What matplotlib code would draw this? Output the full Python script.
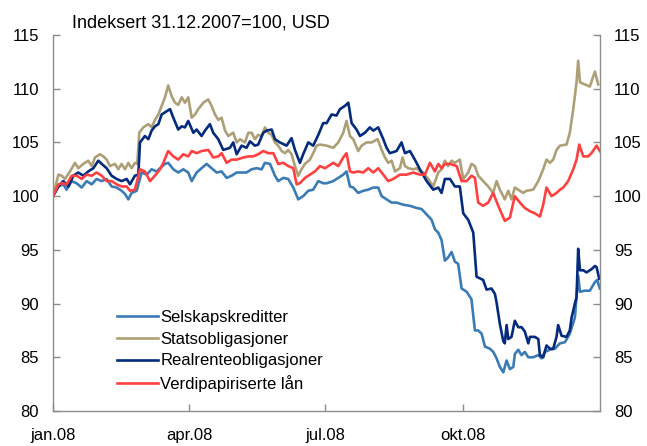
import numpy as np
import matplotlib
matplotlib.use("Agg")
import matplotlib.pyplot as plt
import matplotlib.dates as mdates
from datetime import datetime

plt.rcParams['font.family'] = ['Liberation Sans', 'DejaVu Sans']

title = "Indeksert 31.12.2007=100, USD"
series_names = ["Selskapskreditter", "Statsobligasjoner", "Realrenteobligasjoner", "Verdipapiriserte lån"]
colors = ["#3b7bb6", "#ada077", "#032b7e", "#ff4040"]
xtick_labels = ["jan.08", "apr.08", "jul.08", "okt.08"]
xtick_dates = [datetime(2008, 1, 1), datetime(2008, 4, 1), datetime(2008, 7, 1), datetime(2008, 10, 1)]
yticks = [80, 85, 90, 95, 100, 105, 110, 115]

# days since 31.12.2007
sel_days = [0, 3.6, 6.9, 9.1, 12.5, 15.8, 19.2, 22.5, 25.9, 29.2, 32.6, 35.9, 39.2, 42.6, 45.9, 48.2, 50.4, 52.6, 56.0,
            59.3, 62.7, 66.0, 69.3, 71.6, 74.9, 77.1, 80.5, 83.8, 87.2, 90.5, 92.8, 96.1, 99.4, 102.8, 106.1, 109.5,
            112.8, 116.2, 119.5, 122.9, 126.2, 129.5, 132.9, 136.2, 139.6, 141.8, 145.2, 148.5, 150.7, 154.1, 157.4,
            160.8, 164.1, 167.4, 170.8, 174.1, 177.5, 180.8, 183.1, 187.5, 190.9, 194.2, 196.4, 198.7, 200.9, 204.2,
            207.6, 210.9, 214.3, 217.6, 219.9, 223.2, 226.6, 229.9, 234.4, 238.8, 243.3, 246.6, 250.0, 253.3, 255.6,
            257.8, 260.0, 262.2, 264.4, 266.7, 268.9, 271.1, 273.4, 276.8, 280.0, 282.3, 284.5, 286.8, 289.0, 292.3,
            294.6, 296.8, 299.0, 301.3, 303.5, 305.7, 308.0, 309.0, 311.3, 313.5, 315.7, 318.0, 321.3, 324.7, 326.9,
            329.1, 332.5, 335.8, 339.2, 342.5, 345.8, 349.2, 351.4, 352.6, 355.9, 359.2, 362.6, 364.1, 365.9]
sel_vals = [100, 100.9, 101.1, 100.6, 101.4, 101.2, 100.8, 101.4, 101.1, 101.6, 101.4, 101.6, 100.9, 100.8, 100.5, 100.2,
            99.7, 100.3, 100.5, 102.2, 102.0, 102.5, 102.3, 102.6, 103.0, 103.1, 102.5, 102.2, 102.5, 102.2, 101.4,
            102.2, 102.6, 103.0, 102.6, 102.2, 102.3, 101.7, 101.9, 102.2, 102.2, 102.2, 102.5, 102.6, 102.5, 103.1,
            103.0, 101.9, 101.4, 101.7, 101.6, 100.8, 99.7, 100.0, 100.5, 100.6, 101.4, 101.2, 101.2, 101.4, 101.7,
            102.0, 102.3, 100.9, 100.8, 100.3, 100.5, 100.6, 100.8, 100.8, 100.0, 99.7, 99.4, 99.4, 99.2, 99.1, 98.9,
            98.8, 98.3, 97.8, 96.9, 96.6, 95.9, 94.0, 94.3, 94.8, 93.9, 93.7, 91.4, 91.1, 90.4, 87.5, 87.5, 87.2, 86.0,
            85.8, 85.5, 84.9, 84.1, 83.6, 84.7, 83.9, 84.1, 85.3, 85.7, 85.2, 85.5, 85.0, 85.0, 85.2, 84.9, 85.5, 85.7,
            85.8, 86.3, 86.4, 87.2, 88.7, 92.6, 91.1, 91.2, 91.2, 92.0, 92.2, 91.4]

stat_days = [0, 3.6, 5.8, 8.0, 11.4, 14.7, 16.9, 20.3, 23.6, 25.9, 28.1, 31.4, 33.7, 35.9, 38.1, 41.5, 43.7, 45.9, 48.2,
             50.4, 52.6, 54.8, 56.4, 57.7, 60.4, 63.8, 66.0, 68.2, 70.5, 72.7, 74.9, 77.1, 79.4, 81.6, 83.8, 86.1, 88.3,
             90.5, 92.8, 95.0, 97.2, 100.6, 103.9, 106.1, 108.4, 110.6, 112.8, 115.1, 117.3, 120.6, 122.9, 125.1, 128.4,
             130.7, 132.9, 135.1, 137.3, 139.6, 141.8, 144.0, 146.3, 148.5, 150.7, 153.0, 155.2, 157.4, 159.6, 161.9,
             164.1, 166.3, 168.6, 171.9, 174.1, 176.4, 178.6, 183.1, 187.5, 190.9, 194.2, 196.4, 198.7, 200.9, 204.2,
             206.5, 209.8, 213.2, 217.2, 219.9, 222.1, 224.3, 226.6, 228.8, 232.1, 233.9, 235.5, 237.7, 241.0, 243.3,
             245.5, 247.7, 251.1, 254.4, 257.8, 260.0, 262.2, 264.4, 266.7, 268.9, 272.2, 274.5, 277.8, 280.0, 282.3,
             284.5, 287.8, 291.2, 294.5, 296.8, 299.0, 302.3, 304.6, 306.8, 309.0, 311.3, 314.6, 316.8, 321.3, 324.7,
             328.0, 330.2, 332.5, 334.7, 336.9, 339.2, 343.6, 345.8, 348.1, 350.3, 351.4, 352.6, 355.9, 359.2, 362.6,
             364.8]
stat_vals = [100, 102.0, 101.9, 101.6, 102.3, 103.1, 102.6, 103.0, 103.3, 102.8, 103.6, 103.9, 103.7, 103.4, 102.8, 103.0,
             102.5, 103.0, 102.5, 103.1, 102.6, 103.1, 103.0, 105.9, 106.4, 106.7, 106.4, 107.1, 107.6, 108.4, 109.2,
             110.3, 109.3, 108.7, 108.5, 109.2, 108.7, 109.2, 107.3, 107.6, 108.1, 108.7, 109.0, 108.4, 107.6, 107.1,
             107.3, 106.1, 105.6, 105.9, 105.0, 105.3, 105.0, 105.9, 105.9, 105.3, 105.7, 105.6, 106.4, 105.9, 105.7,
             105.0, 104.7, 104.2, 104.0, 104.3, 103.9, 102.8, 101.9, 102.5, 103.0, 103.4, 104.0, 104.7, 104.8, 104.7,
             104.5, 105.0, 105.9, 107.0, 105.6, 105.3, 104.2, 104.7, 105.0, 105.0, 105.3, 104.3, 103.6, 103.1, 103.3,
             102.3, 102.6, 103.6, 102.8, 102.6, 102.5, 102.6, 102.3, 102.2, 101.6, 100.9, 102.2, 102.5, 103.3, 102.8,
             103.3, 103.1, 103.4, 101.6, 102.2, 103.0, 102.8, 101.9, 101.4, 100.9, 100.3, 101.4, 100.6, 99.7, 100.5,
             99.7, 100.8, 100.6, 100.3, 100.5, 100.6, 101.4, 102.5, 103.4, 103.1, 103.4, 104.3, 104.7, 104.8, 105.9,
             108.1, 110.6, 112.6, 110.6, 110.4, 110.2, 111.6, 110.4]

real_days = [0, 3.6, 6.9, 10.3, 13.6, 16.9, 20.3, 23.6, 27.0, 30.3, 32.6, 35.9, 39.2, 42.6, 45.9, 49.3, 51.5, 54.8, 57.1,
             58.2, 61.5, 63.8, 66.0, 68.2, 70.5, 72.7, 76.0, 78.3, 80.5, 83.8, 86.1, 88.3, 90.5, 93.9, 96.1, 99.4, 101.7,
             105.0, 107.2, 110.6, 113.9, 118.4, 120.6, 122.9, 126.2, 129.5, 131.8, 135.1, 137.3, 140.7, 142.9, 146.3,
             148.5, 151.8, 156.3, 159.6, 161.9, 165.2, 167.4, 170.8, 174.1, 177.5, 180.8, 183.1, 186.4, 189.7, 192.0,
             195.3, 197.6, 199.8, 203.1, 205.4, 208.7, 212.0, 214.3, 217.6, 221.0, 223.2, 225.4, 229.9, 233.2, 235.5,
             238.8, 242.1, 245.5, 250.0, 254.4, 257.8, 260.0, 262.2, 265.6, 268.9, 272.2, 274.5, 277.8, 281.2, 282.3,
             283.4, 287.8, 290.1, 293.4, 295.7, 296.8, 299.0, 301.3, 302.3, 303.5, 304.6, 306.8, 309.0, 311.3, 313.5,
             315.7, 318.0, 319.1, 322.4, 324.7, 325.8, 328.0, 330.2, 332.5, 334.7, 336.9, 338.0, 340.3, 343.6, 345.8,
             347.0, 349.2, 350.3, 351.4, 352.6, 354.8, 357.0, 360.3, 362.6, 363.7, 365.5]
real_vals = [100, 100.9, 101.4, 100.9, 101.9, 102.2, 101.9, 102.3, 102.6, 103.3, 103.0, 102.6, 101.9, 101.6, 101.4, 101.6,
             101.1, 101.9, 102.0, 105.0, 105.6, 105.3, 106.1, 106.5, 106.7, 107.6, 107.9, 108.1, 107.3, 106.2, 106.5,
             106.4, 107.0, 105.9, 106.2, 105.6, 106.1, 106.7, 105.9, 105.3, 104.3, 104.5, 105.0, 103.9, 104.7, 104.5,
             105.1, 104.7, 104.8, 105.9, 106.1, 106.2, 105.3, 105.0, 104.7, 105.4, 104.3, 103.1, 103.9, 105.0, 104.7,
             105.7, 106.8, 106.8, 107.6, 107.5, 108.1, 108.4, 108.7, 106.8, 106.2, 105.6, 105.9, 106.4, 106.1, 106.4,
             105.3, 104.5, 104.0, 104.2, 105.0, 104.0, 104.2, 103.4, 102.5, 101.4, 100.6, 100.8, 100.3, 101.6, 101.6,
             100.9, 100.9, 98.4, 97.8, 96.6, 94.6, 92.5, 92.2, 91.3, 91.4, 90.9, 90.1, 88.1, 86.5, 86.3, 88.0, 86.7,
             86.9, 88.4, 87.8, 87.8, 87.4, 86.3, 86.9, 86.9, 86.7, 85.2, 85.0, 86.1, 85.8, 85.8, 86.9, 88.0, 87.0, 86.9,
             87.5, 88.7, 90.0, 90.6, 95.1, 93.1, 93.1, 92.9, 93.2, 93.5, 93.4, 92.3]

verd_days = [0, 3.6, 6.9, 9.1, 12.5, 15.8, 19.2, 22.5, 25.9, 29.2, 32.6, 35.9, 39.2, 42.6, 45.9, 49.3, 51.5, 54.8, 58.2,
             61.5, 64.9, 68.2, 71.6, 73.8, 77.1, 80.5, 83.8, 87.2, 90.5, 92.8, 96.1, 99.4, 103.9, 107.2, 110.6, 112.8,
             116.2, 119.5, 122.9, 127.3, 130.7, 134.0, 137.3, 140.7, 144.0, 147.4, 150.7, 154.1, 157.4, 160.8, 163.0,
             165.2, 168.6, 171.9, 175.3, 178.6, 182.0, 187.5, 190.9, 194.2, 196.4, 198.7, 200.9, 204.2, 207.6, 210.9,
             214.3, 217.6, 221.0, 224.3, 227.7, 232.1, 236.6, 241.0, 245.5, 248.8, 252.2, 255.5, 257.8, 260.0, 262.2,
             265.6, 270.1, 273.4, 276.8, 280.0, 282.3, 284.5, 287.8, 291.2, 294.5, 297.9, 300.1, 302.3, 305.7, 309.0,
             312.4, 315.7, 319.1, 322.4, 325.8, 328.0, 330.2, 333.6, 336.9, 339.2, 341.4, 344.7, 348.1, 350.3, 352.1,
             354.8, 358.1, 360.3, 363.7, 365.9]
verd_vals = [100, 101.1, 101.2, 101.1, 101.9, 101.9, 101.6, 102.0, 101.9, 102.2, 101.9, 101.4, 101.4, 101.1, 100.9, 100.9,
             100.5, 100.6, 102.5, 102.3, 101.4, 101.9, 102.5, 103.1, 104.2, 103.7, 103.4, 103.9, 103.7, 104.2, 104.0,
             104.2, 104.3, 103.6, 103.7, 104.0, 103.1, 103.4, 103.4, 103.6, 103.7, 103.7, 103.9, 104.2, 104.0, 104.0,
             103.0, 103.1, 102.8, 102.6, 101.1, 101.2, 101.7, 102.0, 102.3, 102.8, 102.6, 103.1, 102.8, 103.6, 104.0,
             102.3, 102.2, 102.3, 102.2, 102.6, 102.2, 102.6, 102.0, 101.4, 101.6, 102.0, 102.0, 102.2, 102.0, 102.0,
             103.1, 102.3, 103.0, 102.6, 103.0, 103.0, 102.8, 101.4, 101.4, 101.9, 101.7, 99.4, 99.1, 99.4, 100.3,
             99.1, 98.4, 97.7, 98.0, 100.0, 99.4, 98.9, 98.6, 98.4, 98.1, 99.2, 100.8, 100.0, 100.3, 100.6, 100.8,
             101.4, 102.5, 103.4, 104.8, 103.7, 103.7, 104.0, 104.7, 104.2]

W, H = 647, 446
fig = plt.figure(figsize=(W / 100, H / 100), dpi=100)
ax = fig.add_axes([53 / W, 1 - 411 / H, (600 - 53) / W, (411 - 35) / H])

base = mdates.date2num(datetime(2008, 1, 1))
all_days = [sel_days, stat_days, real_days, verd_days]
all_vals = [sel_vals, stat_vals, real_vals, verd_vals]
for d, v, c, n in zip(all_days, all_vals, colors, series_names):
    ax.plot(base + np.array(d), v, color=c, lw=1.9, label=n, solid_joinstyle='round')

ax.set_ylim(80, 115)
ax.set_xlim(base, mdates.date2num(datetime(2009, 1, 1)))
ax.set_yticks(yticks)
ax.set_xticks(mdates.date2num(xtick_dates))
ax.set_xticklabels(xtick_labels)

spine_c = "#8c8c8c"
for s in ['left', 'right', 'bottom']:
    ax.spines[s].set_color(spine_c)
    ax.spines[s].set_linewidth(1.0)
ax.spines['top'].set_visible(False)
ax.tick_params(axis='y', which='both', direction='in', length=5, width=1, color=spine_c,
               labelsize=12, pad=10, left=True, right=True, labelleft=True, labelright=True)
ax.tick_params(axis='x', direction='in', length=5, width=1, color=spine_c, labelsize=12, pad=12)

fig.text(72 / W, 1 - 27 / H, title, fontsize=13, va='baseline', ha='left')

leg = ax.legend(loc='upper left', bbox_to_anchor=((117 - 53) / 547, (411 - 310) / 376), frameon=False,
                fontsize=12, handlelength=2.45, handletextpad=0.15, labelspacing=0.4, borderpad=0,
                borderaxespad=0)

fig.savefig("out.png", dpi=100)
